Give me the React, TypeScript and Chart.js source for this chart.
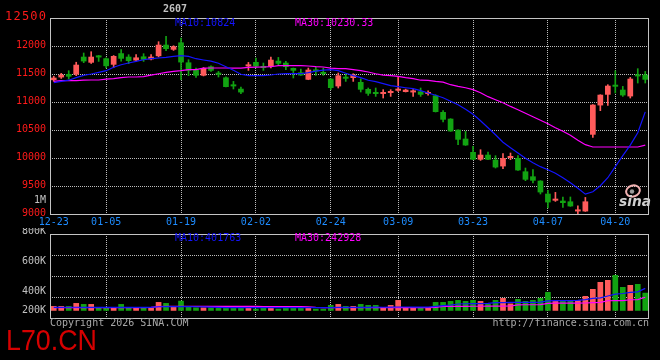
import React, { useEffect, useRef } from 'react';
import { Chart, registerables } from 'chart.js';

Chart.register(...registerables);

// ---------- data ----------
const dates = [
  '12-23','12-24','12-25','12-26','12-29','12-30','12-31',
  '01-05','01-06','01-07','01-08','01-09','01-12','01-13','01-14','01-15','01-16',
  '01-19','01-20','01-21','01-22','01-23','01-26','01-27','01-28','01-29','01-30',
  '02-02','02-03','02-04','02-05','02-06','02-09','02-10','02-11','02-12','02-13',
  '02-24','02-25','02-26','02-27',
  '03-02','03-03','03-04','03-05','03-06','03-09','03-10','03-11','03-12','03-13',
  '03-16','03-17','03-18','03-19','03-20','03-23','03-24','03-25','03-26','03-27',
  '03-30','03-31','04-01','04-02','04-03',
  '04-07','04-08','04-09','04-10','04-13','04-14','04-15','04-16','04-17',
  '04-20','04-21','04-22','04-23','04-24',
];

const tickDates = ['12-23', '01-05', '01-19', '02-02', '02-24', '03-09', '03-23', '04-07', '04-20'];

const opens = [
  11390, 11439, 11500, 11490, 11809, 11702, 11832, 11780, 11666, 11871,
  11809, 11741, 11814, 11761, 11818, 12023, 11934, 12064, 11707, 11577,
  11470, 11636, 11518, 11439, 11309, 11237, 11636, 11714, 11636, 11636,
  11737, 11702, 11607, 11529, 11398, 11564, 11518, 11416, 11279, 11439,
  11429, 11357, 11232, 11171, 11143, 11161, 11202, 11179, 11171, 11189,
  11143, 11118, 10821, 10702, 10505, 10345, 10107, 9970, 10059, 9970,
  9850, 10000, 10000, 9761, 9672, 9595, 9363, 9238, 9238, 9225,
  9046, 9046, 10416, 10939, 11130, 11291, 11220, 11100, 11488, 11488,
];
const highs = [
  11460, 11511, 11559, 11710, 11875, 11898, 11832, 11790, 11830, 11934,
  11845, 11845, 11863, 11845, 12077, 12171, 12005, 12143, 11755, 11607,
  11615, 11648, 11546, 11450, 11368, 11268, 11707, 11786, 11696, 11804,
  11796, 11725, 11607, 11589, 11607, 11625, 11607, 11416, 11518, 11500,
  11505, 11416, 11250, 11250, 11220, 11220, 11439, 11230, 11220, 11250,
  11200, 11130, 10845, 10702, 10505, 10475, 10207, 10148, 10107, 10041,
  10077, 10089, 10041, 9821, 9791, 9595, 9421, 9386, 9304, 9304,
  9148, 9296, 10952, 11130, 11309, 11559, 11279, 11439, 11595, 11546,
];
const lows = [
  11370, 11421, 11411, 11470, 11702, 11688, 11725, 11610, 11612, 11729,
  11684, 11725, 11725, 11750, 11805, 11916, 11921, 11398, 11470, 11439,
  11465, 11546, 11446, 11268, 11232, 11148, 11564, 11607, 11564, 11607,
  11666, 11577, 11429, 11475, 11398, 11475, 11475, 11220, 11250, 11368,
  11368, 11179, 11118, 11100, 11071, 11100, 11189, 11179, 11100, 11100,
  11120, 10821, 10643, 10475, 10238, 10225, 9970, 9957, 9970, 9821,
  9809, 9970, 9779, 9595, 9554, 9357, 9107, 9225, 9118, 9136,
  9000, 9046, 10368, 10845, 10939, 11161, 11100, 11071, 11339, 11339,
];
const closes = [
  11435, 11487, 11452, 11666, 11725, 11809, 11796, 11640, 11821, 11773,
  11732, 11796, 11755, 11809, 12023, 11946, 11993, 11707, 11559, 11470,
  11607, 11559, 11488, 11268, 11279, 11171, 11666, 11636, 11607, 11755,
  11684, 11625, 11559, 11475, 11577, 11546, 11500, 11250, 11475, 11416,
  11488, 11220, 11148, 11143, 11161, 11179, 11237, 11220, 11189, 11130,
  11161, 10821, 10684, 10475, 10327, 10225, 9970, 10059, 9970, 9832,
  9999, 10018, 9779, 9613, 9595, 9386, 9207, 9273, 9196, 9136,
  9077, 9225, 10952, 11130, 11291, 11273, 11118, 11416, 11457, 11398,
];

const ma10 = [
  11345, 11368, 11389, 11434, 11475, 11500, 11529, 11559, 11621, 11666,
  11696, 11725, 11755, 11773, 11786, 11796, 11814, 11827, 11814, 11773,
  11750, 11729, 11693, 11630, 11568, 11496, 11470, 11470, 11470, 11482,
  11500, 11505, 11505, 11505, 11523, 11550, 11568, 11577, 11559, 11514,
  11470, 11434, 11389, 11363, 11327, 11291, 11273, 11255, 11238, 11202,
  11161, 11121, 11077, 11014, 10952, 10871, 10782, 10666, 10541, 10416,
  10282, 10184, 10089, 9996, 9916, 9845, 9791, 9729, 9648, 9559,
  9461, 9354, 9398, 9505, 9648, 9845, 10041, 10230, 10452, 10824,
];
const ma30 = [
  11370, 11380, 11380, 11380, 11389, 11393, 11393, 11407, 11416, 11434,
  11446, 11446, 11452, 11479, 11505, 11529, 11546, 11559, 11577, 11577,
  11604, 11607, 11607, 11607, 11604, 11604, 11618, 11621, 11625, 11630,
  11648, 11648, 11648, 11648, 11643, 11630, 11625, 11604, 11595, 11595,
  11577, 11559, 11536, 11505, 11479, 11470, 11457, 11434, 11416, 11389,
  11386, 11368, 11354, 11309, 11279, 11255, 11220, 11166, 11095, 11041,
  10987, 10921, 10863, 10800, 10737, 10675, 10613, 10541, 10479, 10407,
  10318, 10238, 10196, 10196, 10196, 10196, 10196, 10196, 10196, 10230.33,
];

const volumes = [
  85000, 85000, 85000, 139000, 121000, 121000, 60000, 60000, 60000, 121000,
  60000, 60000, 60000, 60000, 157000, 139000, 85000, 180000, 85000, 60000,
  60000, 60000, 49000, 49000, 49000, 49000, 60000, 36000, 54000, 60000,
  36000, 49000, 49000, 49000, 60000, 36000, 36000, 103000, 121000, 85000,
  85000, 121000, 103000, 103000, 60000, 103000, 193000, 60000, 60000, 60000,
  60000, 157000, 157000, 175000, 193000, 175000, 193000, 175000, 121000, 193000,
  229000, 131000, 211000, 175000, 193000, 229000, 337000, 175000, 175000, 175000,
  193000, 265000, 391000, 517000, 553000, 643000, 427000, 463000, 481000, 324000,
];
const volMa10 = [
  62000, 62000, 63000, 63000, 62000, 61000, 60000, 60000, 60000, 61000,
  60000, 60000, 61000, 62000, 72000, 74000, 74000, 75000, 73000, 72000,
  70000, 64000, 60000, 58000, 57000, 57000, 57000, 56000, 56000, 57000,
  57000, 57000, 56000, 56000, 57000, 57000, 56000, 58000, 60000, 60000,
  60000, 62000, 62000, 64000, 63000, 66000, 68000, 68000, 67000, 66000,
  66000, 80000, 92000, 104000, 122000, 126000, 128000, 130000, 132000, 145000,
  148000, 150000, 150000, 152000, 150000, 154000, 178000, 182000, 182000, 184000,
  186000, 200000, 222000, 232000, 265000, 300000, 310000, 332000, 340000, 401763,
];
const volMa30 = [
  57000, 57000, 57000, 57000, 57000, 57000, 57000, 57000, 57000, 57000,
  57000, 57000, 58000, 60000, 75000, 78000, 78000, 79000, 79000, 80000,
  80000, 79000, 78000, 78000, 78000, 78000, 78000, 78000, 77000, 77000,
  76000, 76000, 75000, 74000, 72000, 60000, 57000, 57000, 57000, 57000,
  57000, 57000, 57000, 57000, 57000, 57000, 57000, 57000, 57000, 57000,
  58000, 60000, 78000, 80000, 80000, 80000, 81000, 81000, 82000, 82000,
  84000, 86000, 105000, 108000, 108000, 110000, 132000, 136000, 136000, 137000,
  138000, 140000, 148000, 150000, 180000, 183000, 184000, 198000, 200000, 242928,
];

const volLabels = ['800K', '600K', '400K', '200K'];
const volLabelOffsets = [-3, 27, 57, 76];
const titleText = '2607';
const periodText = '1M';
const copyrightText = 'Copyright 2026 SINA.COM';
const urlText = 'http://finance.sina.com.cn';
const brandText = 'L70.CN';

// ---------- styles ----------
const UP = '#ff5b5b';
const DOWN = '#12a312';
const BLUE = '#1414ff';
const MAGENTA = '#ff00ff';
const GRID = '#bdbdbd';
const FRAME = '#c4c4c4';
const GRAY = '#c0c0c0';
const MONO = '"DejaVu Sans Mono", "Liberation Mono", monospace';

const candleColors = opens.map((o, i) => (closes[i] >= o ? UP : DOWN));
const tickIdx = tickDates.map((d) => dates.indexOf(d));

function frame(ctx: CanvasRenderingContext2D, a: any) {
  ctx.strokeStyle = FRAME;
  ctx.lineWidth = 1;
  ctx.setLineDash([]);
  ctx.strokeRect(
    Math.round(a.left) + 0.5,
    Math.round(a.top) + 0.5,
    Math.round(a.right - a.left) - 1,
    Math.round(a.bottom - a.top)
  );
}

const xAxis = (showLabels: boolean) => ({
  type: 'category',
  offset: true,
  grid: {
    offset: false,
    drawTicks: false,
    color: (c: any) => (c.tick && c.tick.value === 0 ? 'rgba(0,0,0,0)' : GRID),
    lineWidth: 1,
  },
  border: { display: false, dash: [1, 1] },
  ticks: {
    display: showLabels,
    autoSkip: false,
    maxRotation: 0,
    padding: 2,
    color: '#1e8cff',
    font: { family: MONO, size: 10 },
  },
  afterBuildTicks: (scale: any) => {
    scale.ticks = tickIdx.map((v) => ({ value: v }));
  },
  afterFit: (scale: any) => {
    scale.height = showLabels ? 14 : 0;
  },
});

const pricePlugin = {
  id: 'pricePanel',
  afterDraw(chart: any) {
    const { ctx, chartArea: a, scales } = chart;
    const y = scales.y;
    ctx.save();
    frame(ctx, a);
    ctx.textAlign = 'right';
    ctx.textBaseline = 'middle';
    ctx.fillStyle = '#ff1a1a';
    y.ticks.forEach((t: any) => {
      const py = y.getPixelForValue(t.value);
      const isTop = t.value === y.max;
      ctx.font = (isTop ? 12 : 10) + 'px ' + MONO;
      (ctx as any).letterSpacing = isTop ? '1.2px' : '0px';
      ctx.fillText(String(t.value), a.left - 4 + (isTop ? 1.2 : 0), py - 1);
    });
    (ctx as any).letterSpacing = '0px';
    ctx.font = '10px ' + MONO;
    ctx.fillStyle = GRAY;
    ctx.fillText(periodText, a.left - 4, a.bottom - 14);

    ctx.textAlign = 'left';
    ctx.fillStyle = BLUE;
    ctx.fillText('MA10:' + ma10[ma10.length - 1], a.left + 125, a.top + 5.5);
    ctx.fillStyle = MAGENTA;
    ctx.fillText('MA30:' + ma30[ma30.length - 1], a.left + 245, a.top + 5.5);

    ctx.textAlign = 'center';
    ctx.fillStyle = GRAY;
    ctx.font = 'bold 10px ' + MONO;
    ctx.fillText(titleText, a.left + 125, a.top - 8.5);

    // sina watermark
    ctx.strokeStyle = '#f2b2b2';
    ctx.lineWidth = 2;
    ctx.beginPath();
    ctx.ellipse(a.right - 16, a.bottom - 23, 7, 5.5, -0.3, 0, Math.PI * 2);
    ctx.stroke();
    ctx.fillStyle = '#9a9a9a';
    ctx.beginPath();
    ctx.arc(a.right - 17, a.bottom - 22.5, 2.2, 0, Math.PI * 2);
    ctx.fill();
    ctx.fillStyle = '#d0d0d0';
    ctx.textAlign = 'left';
    ctx.textBaseline = 'alphabetic';
    ctx.font = 'italic bold 14px "DejaVu Sans", sans-serif';
    ctx.fillText('sina', a.right - 30, a.bottom - 8, 32);
    ctx.restore();
  },
};

const volumePlugin = {
  id: 'volumePanel',
  afterDraw(chart: any) {
    const { ctx, chartArea: a } = chart;
    ctx.save();
    frame(ctx, a);
    ctx.textAlign = 'right';
    ctx.textBaseline = 'middle';
    ctx.font = '10px ' + MONO;
    ctx.fillStyle = GRAY;
    volLabels.forEach((t, i) => ctx.fillText(t, a.left - 4, a.top + volLabelOffsets[i]));

    ctx.textAlign = 'left';
    ctx.fillStyle = BLUE;
    ctx.fillText('MA10:' + volMa10[volMa10.length - 1], a.left + 125, a.top + 4.5);
    ctx.fillStyle = MAGENTA;
    ctx.fillText('MA30:' + volMa30[volMa30.length - 1], a.left + 245, a.top + 4.5);

    ctx.fillStyle = '#a8a8a8';
    ctx.fillText(copyrightText, a.left, a.bottom + 5);
    ctx.textAlign = 'right';
    ctx.fillText(urlText, a.right, a.bottom + 5);

    ctx.textAlign = 'left';
    ctx.textBaseline = 'alphabetic';
    ctx.fillStyle = '#d60000';
    ctx.font = '30px "Liberation Sans", Arial, sans-serif';
    ctx.fillText(brandText, 6, a.bottom + 32, 91);
    ctx.restore();
  },
};

export default function App() {
  const priceRef = useRef<HTMLCanvasElement>(null);
  const volRef = useRef<HTMLCanvasElement>(null);

  useEffect(() => {
    const common = {
      animation: false,
      responsive: false,
      devicePixelRatio: 1,
      events: [],
      plugins: { legend: { display: false }, tooltip: { enabled: false } },
    };

    const price = new Chart(priceRef.current as HTMLCanvasElement, {
      type: 'bar',
      data: {
        labels: dates,
        datasets: [
          { type: 'line', label: 'MA10', data: ma10, borderColor: BLUE, borderWidth: 1.2, pointRadius: 0, order: 0 },
          { type: 'line', label: 'MA30', data: ma30, borderColor: MAGENTA, borderWidth: 1.2, pointRadius: 0, order: 0 },
          {
            type: 'bar', label: 'body',
            data: opens.map((o, i) => [o, closes[i]]),
            backgroundColor: candleColors,
            barPercentage: 0.76, categoryPercentage: 1, minBarLength: 2, grouped: false, order: 1,
          },
          {
            type: 'bar', label: 'wick',
            data: lows.map((l, i) => [l, highs[i]]),
            backgroundColor: candleColors,
            barThickness: 1, grouped: false, order: 2,
          },
        ],
      } as any,
      options: {
        ...common,
        layout: { padding: { top: 18, right: 11, left: 0, bottom: 0 } },
        scales: {
          x: xAxis(true),
          y: {
            min: 9000,
            max: 12500,
            ticks: { stepSize: 500, display: false },
            grid: { color: GRID, drawTicks: false, lineWidth: 1 },
            border: { display: false, dash: [1, 1] },
            afterFit: (s: any) => { s.width = 50; },
          },
        },
      } as any,
      plugins: [pricePlugin],
    });

    const vol = new Chart(volRef.current as HTMLCanvasElement, {
      type: 'bar',
      data: {
        labels: dates,
        datasets: [
          { type: 'line', label: 'VMA10', data: volMa10, borderColor: BLUE, borderWidth: 1.2, pointRadius: 0, order: 0 },
          { type: 'line', label: 'VMA30', data: volMa30, borderColor: MAGENTA, borderWidth: 1.2, pointRadius: 0, order: 0 },
          {
            type: 'bar', label: 'volume', data: volumes,
            backgroundColor: candleColors,
            barPercentage: 0.76, categoryPercentage: 1, grouped: false, order: 1,
          },
        ],
      } as any,
      options: {
        ...common,
        layout: { padding: { top: 6, right: 11, left: 0, bottom: 42 } },
        scales: {
          x: xAxis(false),
          y: {
            min: -130000,
            max: 1380000,
            ticks: { display: false },
            grid: { color: GRID, drawTicks: false, lineWidth: 1 },
            border: { display: false, dash: [1, 1] },
            afterBuildTicks: (s: any) => {
              const span = s.max - s.min;
              s.ticks = [0, 1, 2, 3, 4].map((k) => ({ value: s.min + (span * k) / 4 }));
            },
            afterFit: (s: any) => { s.width = 50; },
          },
        },
      } as any,
      plugins: [volumePlugin],
    });

    return () => {
      price.destroy();
      vol.destroy();
    };
  }, []);

  return (
    <div style={{ position: 'fixed', left: 0, top: 0, width: 660, height: 360, background: '#000', overflow: 'hidden' }}>
      <canvas ref={priceRef} width={660} height={228} style={{ position: 'absolute', left: 0, top: 0, width: 660, height: 228 }} />
      <canvas ref={volRef} width={660} height={132} style={{ position: 'absolute', left: 0, top: 228, width: 660, height: 132 }} />
    </div>
  );
}
